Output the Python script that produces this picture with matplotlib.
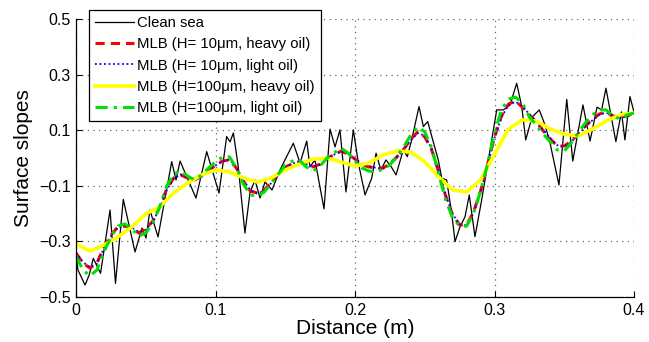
import matplotlib
matplotlib.use("Agg")
import matplotlib.pyplot as plt
import numpy as np

plt.rcParams['font.family'] = ['Liberation Sans', 'DejaVu Sans']

# clean sea surface slope profile
clean_x = [0.000, 0.0014, 0.0065, 0.0095, 0.0124, 0.0176, 0.0244, 0.0283, 0.0339, 0.0423,
           0.0473, 0.0502, 0.0530, 0.0588, 0.0686, 0.0717, 0.0746, 0.0860, 0.0937, 0.1025,
           0.1080, 0.1104, 0.1128, 0.1163, 0.1211, 0.1247, 0.1283, 0.1319, 0.1355, 0.1405,
           0.1462, 0.1558, 0.1606, 0.1654, 0.1677, 0.1713, 0.1778, 0.1821, 0.1857, 0.1892,
           0.1935, 0.1988, 0.2024, 0.2072, 0.2120, 0.2151, 0.2185, 0.2222, 0.2258, 0.2294,
           0.2346, 0.2375, 0.2406, 0.2459, 0.2490, 0.2521, 0.2597, 0.2622, 0.2657, 0.2693,
           0.2717, 0.2753, 0.2789, 0.2819, 0.2860, 0.2908, 0.2956, 0.3016, 0.3063, 0.3111,
           0.3159, 0.3195, 0.3224, 0.3269, 0.3321, 0.3362, 0.3398, 0.3462, 0.3518, 0.3561,
           0.3634, 0.3685, 0.3735, 0.3768, 0.3799, 0.3870, 0.3910, 0.3935, 0.3971, 0.4000]
clean_y = [-0.345, -0.403, -0.457, -0.420, -0.361, -0.415, -0.187, -0.451, -0.149, -0.338,
           -0.252, -0.288, -0.187, -0.284, -0.013, -0.079, -0.011, -0.144, 0.023, -0.126,
           0.077, 0.058, 0.090, -0.031, -0.270, -0.126, -0.079, -0.144, -0.086, -0.115,
           -0.043, 0.053, -0.018, 0.061, -0.032, -0.007, -0.183, 0.104, 0.040, 0.101,
           -0.122, 0.101, -0.018, -0.133, -0.072, 0.017, -0.043, -0.007, -0.030, -0.061,
           0.029, 0.005, 0.065, 0.185, 0.113, 0.131, -0.007, -0.073, -0.079, -0.198,
           -0.301, -0.247, -0.211, -0.133, -0.283, -0.151, -0.007, 0.173, 0.173, 0.190,
           0.269, 0.185, 0.065, 0.147, 0.173, 0.119, 0.054, -0.097, 0.211, -0.011,
           0.191, 0.061, 0.183, 0.173, 0.251, 0.059, 0.166, 0.065, 0.221, 0.165]

# MLB filtered profiles sampled every 5 mm
mlb_x = np.arange(0, 81) * 0.005
h10_heavy = [-0.342, -0.378, -0.396, -0.378, -0.320, -0.277, -0.248, -0.245, -0.252, -0.270,
             -0.255, -0.227, -0.176, -0.112, -0.072, -0.061, -0.072, -0.079, -0.065, -0.047,
             -0.025, -0.011, -0.007, -0.036, -0.083, -0.119, -0.126, -0.115, -0.086, -0.058,
             -0.032, -0.022, -0.014, -0.025, -0.032, -0.022, 0.000, 0.011, 0.025, 0.014,
             -0.004, -0.025, -0.032, -0.036, -0.036, -0.022, 0.004, 0.032, 0.068, 0.094,
             0.076, 0.029, -0.050, -0.137, -0.205, -0.241, -0.241, -0.194, -0.119, -0.025,
             0.076, 0.151, 0.194, 0.205, 0.183, 0.155, 0.129, 0.097, 0.068, 0.043,
             0.043, 0.061, 0.086, 0.115, 0.137, 0.158, 0.165, 0.151, 0.147, 0.151,
             0.162]
h10_light = [-0.340, -0.375, -0.393, -0.380, -0.325, -0.280, -0.250, -0.243, -0.250, -0.266,
             -0.258, -0.230, -0.180, -0.115, -0.074, -0.060, -0.070, -0.080, -0.067, -0.049,
             -0.027, -0.012, -0.006, -0.033, -0.080, -0.116, -0.128, -0.118, -0.090, -0.060,
             -0.034, -0.020, -0.012, -0.022, -0.030, -0.024, -0.003, 0.012, 0.023, 0.016,
             -0.002, -0.022, -0.030, -0.035, -0.038, -0.024, 0.002, 0.030, 0.064, 0.090,
             0.080, 0.033, -0.046, -0.133, -0.202, -0.238, -0.243, -0.198, -0.123, -0.029,
             0.072, 0.147, 0.190, 0.203, 0.186, 0.158, 0.131, 0.100, 0.071, 0.046,
             0.041, 0.058, 0.083, 0.112, 0.135, 0.155, 0.164, 0.153, 0.145, 0.149,
             0.161]
h100_light = [-0.353, -0.403, -0.424, -0.403, -0.338, -0.284, -0.245, -0.237, -0.255, -0.281,
              -0.270, -0.234, -0.176, -0.101, -0.058, -0.047, -0.065, -0.079, -0.061, -0.036,
              -0.014, 0.004, 0.004, -0.036, -0.094, -0.133, -0.137, -0.122, -0.090, -0.058,
              -0.025, -0.011, -0.007, -0.032, -0.047, -0.029, 0.000, 0.018, 0.036, 0.018,
              -0.011, -0.036, -0.047, -0.050, -0.040, -0.025, 0.007, 0.040, 0.083, 0.112,
              0.094, 0.036, -0.058, -0.151, -0.216, -0.245, -0.245, -0.198, -0.119, -0.022,
              0.090, 0.173, 0.212, 0.219, 0.198, 0.147, 0.119, 0.086, 0.058, 0.029,
              0.025, 0.054, 0.090, 0.126, 0.155, 0.173, 0.173, 0.151, 0.140, 0.155,
              0.162]

# thick layer, heavy oil: smoother response, sampled every 10 mm
heavy_x = np.arange(0, 41) * 0.01
h100_heavy = [-0.309, -0.335, -0.313, -0.284, -0.248, -0.201, -0.176, -0.126, -0.090, -0.061,
              -0.043, -0.050, -0.072, -0.086, -0.072, -0.043, -0.022, -0.004, 0.000, -0.014,
              -0.029, -0.018, 0.011, 0.025, 0.022, -0.014, -0.068, -0.115, -0.122, -0.079,
              0.014, 0.104, 0.137, 0.133, 0.104, 0.086, 0.079, 0.104, 0.133, 0.155,
              0.162]

labels = ['Clean sea',
          'MLB (H= 10\u03bcm, heavy oil)',
          'MLB (H= 10\u03bcm, light oil)',
          'MLB (H=100\u03bcm, heavy oil)',
          'MLB (H=100\u03bcm, light oil)']
xticks = [0, 0.1, 0.2, 0.3, 0.4]
xticklabels = ['0', '0.1', '0.2', '0.3', '0.4']
yticks = [-0.5, -0.3, -0.1, 0.1, 0.3, 0.5]
yticklabels = ['\u22120.5', '\u22120.3', '\u22120.1', '0.1', '0.3', '0.5']

fig = plt.figure(figsize=(6.49, 3.42), dpi=100)
ax = fig.add_axes([76 / 649, 45 / 342, 558 / 649, 278 / 342])

ax.plot(clean_x, clean_y, color='black', lw=0.9, label=labels[0])
ax.plot(mlb_x, h10_heavy, color='red', ls=(0, (3, 2)), lw=2.2, label=labels[1])
ax.plot(mlb_x, h10_light, color='blue', ls=(0, (1, 1.5)), lw=1.3, label=labels[2])
ax.plot(heavy_x, h100_heavy, color='#ffff00', lw=2.6, label=labels[3])
ax.plot(mlb_x, h100_light, color='#00e000', ls=(0, (4, 2, 1, 2)), lw=2.2, label=labels[4])

ax.set_xlim(0, 0.4)
ax.set_ylim(-0.5, 0.5)
ax.set_xticks(xticks)
ax.set_xticklabels(xticklabels)
ax.set_yticks(yticks)
ax.set_yticklabels(yticklabels)
ax.tick_params(direction='in', length=4, width=0.8, labelsize=11.5, pad=4)
ax.grid(True, ls=(0, (1, 3.5)), color='#666666', lw=0.9)
ax.spines['top'].set_visible(False)
ax.spines['right'].set_visible(False)
for s in ('left', 'bottom'):
    ax.spines[s].set_linewidth(0.9)

ax.set_xlabel('Distance (m)', fontsize=15, labelpad=1)
ax.set_ylabel('Surface slopes', fontsize=15, labelpad=4)

leg = ax.legend(loc='upper left', bbox_to_anchor=(0.023, 1.032), borderaxespad=0,
                fontsize=10.7, fancybox=False, framealpha=1, edgecolor='black',
                handlelength=2.6, handletextpad=0.25, labelspacing=0.48, borderpad=0.42)
leg.get_frame().set_linewidth(0.9)

fig.savefig('out.png', dpi=100)
